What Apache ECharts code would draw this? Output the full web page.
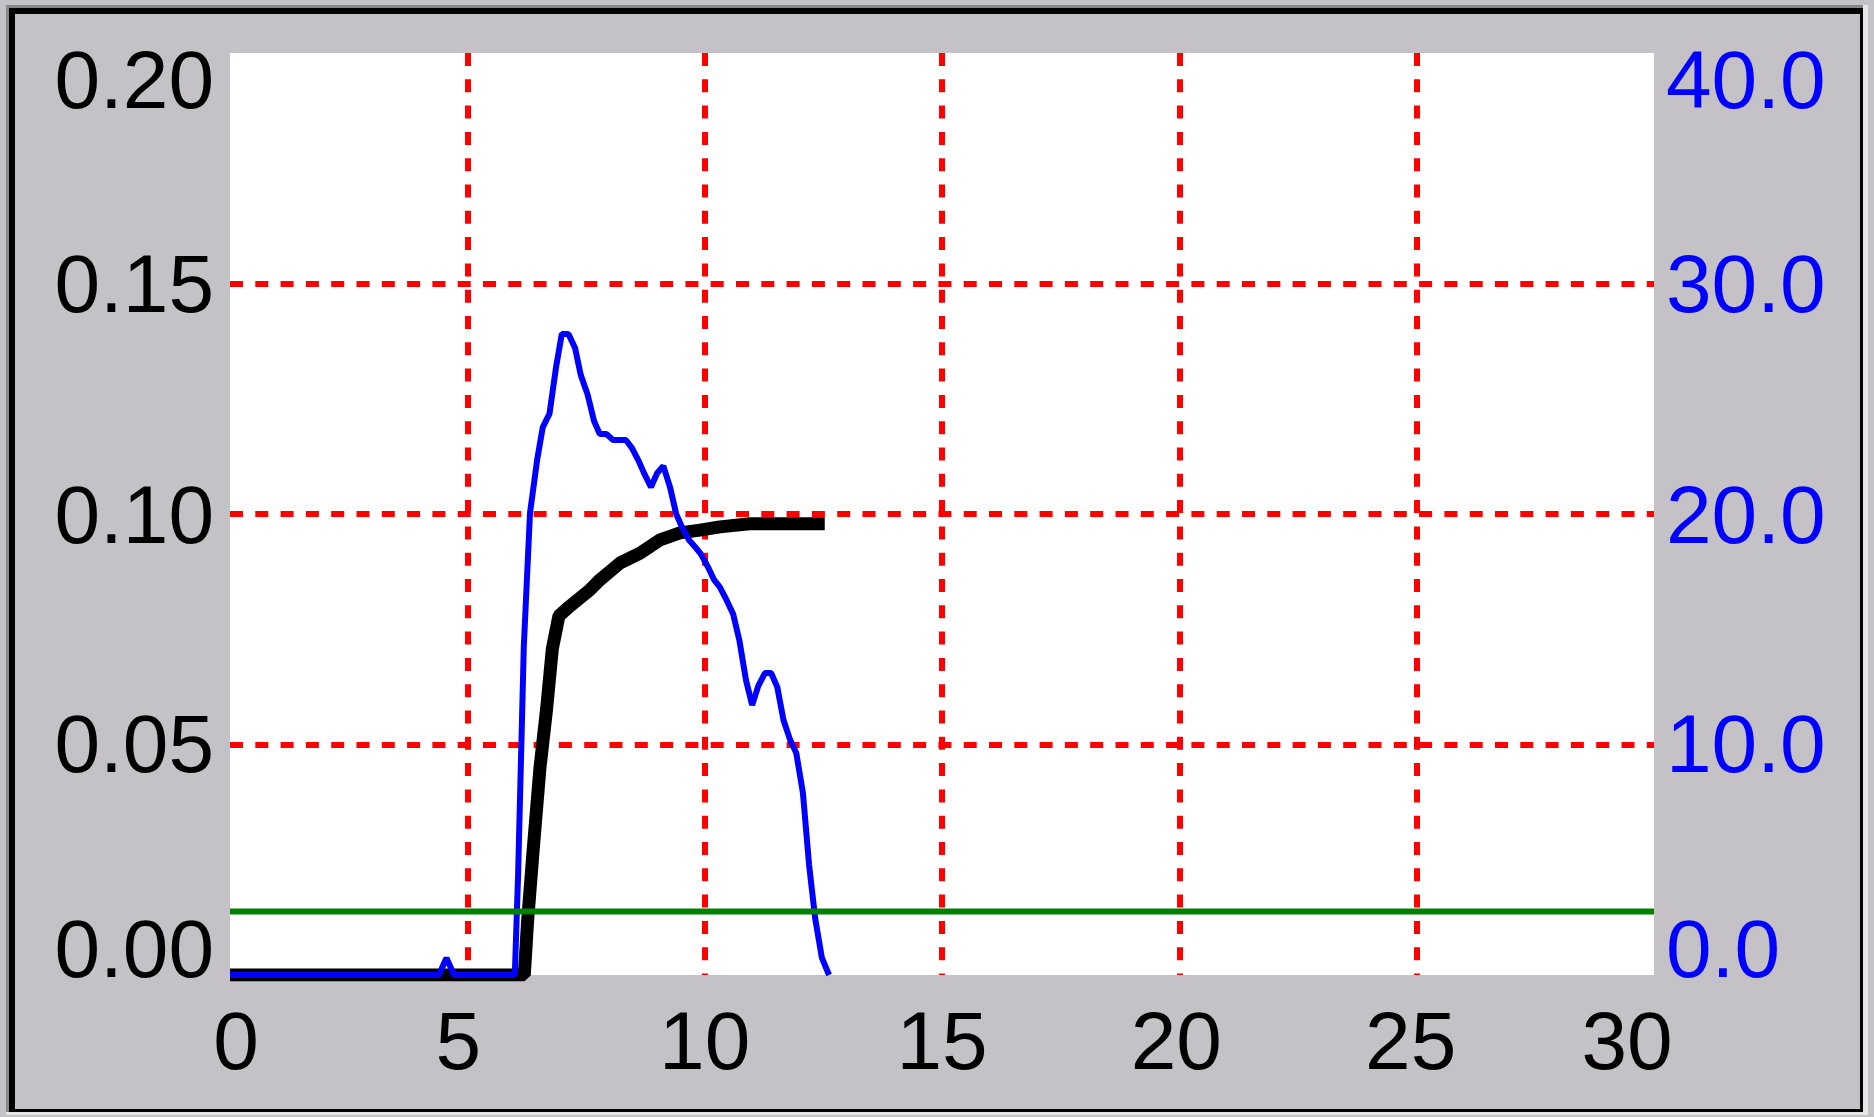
<!DOCTYPE html>
<html>
<head>
<meta charset="utf-8">
<script src="https://cdn.jsdelivr.net/npm/echarts@6/dist/echarts.min.js"></script>
<style>
html,body{margin:0;padding:0;background:#c4c2c6;overflow:hidden;}
#c{width:1874px;height:1117px;}
</style>
</head>
<body>
<div id="c"></div>
<script>
// ---- data ----
const xTicks = ['0', '5', '10', '15', '20', '25', '30'];
const leftTicks = ['0.00', '0.05', '0.10', '0.15', '0.20'];
const rightTicks = ['0.0', '10.0', '20.0', '30.0', '40.0'];

// thin blue trace (right axis, 0-40)
const blueX = [0, 4.40, 4.56, 4.72, 6.00, 6.07, 6.19, 6.32, 6.47, 6.59, 6.73, 6.87, 6.99, 7.13,
  7.27, 7.39, 7.53, 7.67, 7.79, 7.93, 8.07, 8.20, 8.34, 8.47, 8.60, 8.73, 8.87,
  9.00, 9.13, 9.27, 9.40, 9.52, 9.67, 9.80, 9.92, 10.07, 10.20, 10.32, 10.46, 10.60, 10.73, 10.87,
  11.00, 11.13, 11.27, 11.40, 11.53, 11.66, 11.80, 11.93, 12.07, 12.20, 12.33, 12.47, 12.62];
const blueY = [0, 0, 0.74, 0, 0, 4.38, 14.27, 20.04, 22.34, 23.77, 24.34, 26.38, 27.81, 27.81,
  27.20, 26.03, 25.21, 24.03, 23.47, 23.47, 23.21, 23.21, 23.21, 22.86, 22.34, 21.74, 21.17,
  21.78, 22.08, 21.17, 20.00, 19.44, 18.87, 18.57, 18.26, 17.70, 17.14, 16.83, 16.27, 15.66, 14.53, 12.80,
  11.71, 12.54, 13.10, 13.10, 12.49, 11.06, 10.20, 9.63, 7.90, 4.77, 2.43, 0.74, 0];

// thick black trace (left axis, 0-0.20)
const blackX = [0, 6.20, 6.27, 6.39, 6.53, 6.67, 6.79, 6.93, 7.16, 7.58, 7.79, 8.22, 8.64, 9.06, 9.48, 9.90, 10.32, 10.95, 12.53];
const blackY = [0, 0, 0.0117, 0.0275, 0.0449, 0.0577, 0.0707, 0.0779, 0.0800, 0.0835, 0.0857, 0.0894, 0.0915, 0.0944, 0.0959, 0.0965, 0.0972, 0.0979, 0.0979];

// green threshold line (right axis)
const greenX = [0, 30];
const greenY = [2.75, 2.75];

// ---- chart ----
const FONT = "'Liberation Sans', Arial, sans-serif";
const FS = 82;
function zip(a, b) { return a.map((v, i) => [v, b[i]]); }

const xShift = { '0': 6, '5': -9, '20': -3, '25': -6, '30': -27 };
const richX = {};
xTicks.forEach(t => {
  const s = xShift[t] || 0;
  richX['x' + t] = { fontSize: FS, fontFamily: FONT, color: '#000000',
    padding: [0, s < 0 ? -2 * s : 0, 0, s > 0 ? 2 * s : 0] };
});
const yShift = [-21, 5, 6, 6, 32];
function richY(color) {
  const r = {};
  yShift.forEach((s, i) => {
    r['y' + i] = { fontSize: FS, fontFamily: FONT, color: color,
      padding: [s > 0 ? 2 * s : 0, 0, s < 0 ? -2 * s : 0, 0] };
  });
  return r;
}

const chart = echarts.init(document.getElementById('c'), null, { renderer: 'canvas', width: 1874, height: 1117 });

const frame = [
  { x: 6, y: 5, w: 1860, h: 3, c: '#878789' },
  { x: 6, y: 5, w: 3, h: 1107, c: '#878789' },
  { x: 1863, y: 5, w: 5, h: 1110, c: '#e6e6e6' },
  { x: 6, y: 1112, w: 1862, h: 3, c: '#e6e6e6' },
  { x: 9, y: 8, w: 1854, h: 6, c: '#000000' },
  { x: 9, y: 8, w: 6, h: 1104, c: '#000000' },
  { x: 1860, y: 8, w: 3, h: 1104, c: '#000000' },
  { x: 9, y: 1109, w: 1854, h: 3, c: '#000000' }
];

chart.setOption({
  animation: false,
  backgroundColor: '#c4c2c6',
  graphic: { elements: frame.map(f => ({ type: 'rect', silent: true, z: 100,
    shape: { x: f.x, y: f.y, width: f.w, height: f.h }, style: { fill: f.c } })) },
  grid: { left: 230, right: 220, top: 53, bottom: 142, show: true, backgroundColor: '#ffffff',
    borderWidth: 0, containLabel: false, outerBoundsMode: 'none' },
  xAxis: {
    type: 'value', min: 0, max: 30, interval: 5,
    axisLine: { show: false }, axisTick: { show: false },
    axisLabel: {
      margin: 30, fontSize: FS, fontFamily: FONT, color: '#000',
      formatter: v => { const t = xTicks[Math.round(v / 5)]; return '{x' + t + '|' + t + '}'; },
      rich: richX
    },
    splitLine: { show: true, showMinLine: false, showMaxLine: false,
      lineStyle: { color: '#ff0000', width: 6, type: [13, 13.3] } }
  },
  yAxis: [
    {
      type: 'value', min: 0, max: 0.2, interval: 0.05, position: 'left',
      axisLine: { show: false }, axisTick: { show: false },
      axisLabel: {
        margin: 16, fontSize: FS, fontFamily: FONT, color: '#000',
        formatter: v => { const i = Math.round(v / 0.05); return '{y' + i + '|' + leftTicks[i] + '}'; },
        rich: richY('#000000')
      },
      splitLine: { show: true, showMinLine: false, showMaxLine: false,
        lineStyle: { color: '#ff0000', width: 6, type: [13, 12.3] } }
    },
    {
      type: 'value', min: 0, max: 40, interval: 10, position: 'right',
      axisLine: { show: false }, axisTick: { show: false },
      axisLabel: {
        margin: 12, fontSize: FS, fontFamily: FONT, color: '#0000ff',
        formatter: v => { const i = Math.round(v / 10); return '{y' + i + '|' + rightTicks[i] + '}'; },
        rich: richY('#0000ff')
      },
      splitLine: { show: false }
    }
  ],
  series: [
    { type: 'line', name: 'black', yAxisIndex: 0, data: zip(blackX, blackY), symbol: 'none',
      lineStyle: { color: '#000000', width: 13 }, z: 2 },
    { type: 'line', name: 'blue', yAxisIndex: 1, data: zip(blueX, blueY), symbol: 'none',
      lineStyle: { color: '#0000ff', width: 6 }, z: 3 },
    { type: 'line', name: 'green', yAxisIndex: 1, data: zip(greenX, greenY), symbol: 'none',
      lineStyle: { color: '#008000', width: 6 }, z: 4 }
  ]
});
</script>
</body>
</html>
